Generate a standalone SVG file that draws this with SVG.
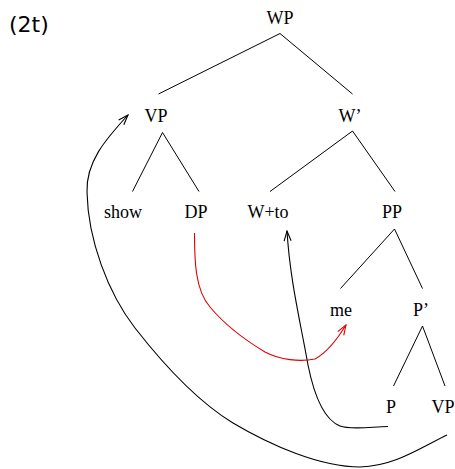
<svg xmlns="http://www.w3.org/2000/svg" width="455" height="469" viewBox="0 0 455 469">
<defs>
<style>
.lbl{font-family:"Liberation Serif","Times New Roman",serif;font-size:18px;fill:#000;text-anchor:middle}
.edge{stroke:#000;stroke-width:1;fill:none}
.mv{stroke:#000;stroke-width:1.1;fill:none}
.red{stroke:#e00000}
</style>
<marker id="ah" markerWidth="12" markerHeight="10" refX="0" refY="0" viewBox="-11 -5 12 10" orient="auto" markerUnits="userSpaceOnUse">
<path d="M-10,-3.5 L0,0 L-10,3.5" fill="none" stroke="#000" stroke-width="1.1"/>
</marker>
<marker id="ahr" markerWidth="12" markerHeight="10" refX="0" refY="0" viewBox="-11 -5 12 10" orient="auto" markerUnits="userSpaceOnUse">
<path d="M-10,-3.5 L0,0 L-10,3.5" fill="none" stroke="#e00000" stroke-width="1.1"/>
</marker>
</defs>
<rect width="455" height="469" fill="#fff"/>
<text x="9" y="32" font-family="DejaVu Sans, sans-serif" font-size="22">(2t)</text>
<g id="WP"><text class="lbl" x="280" y="24">WP</text></g>
<g id="VP"><text class="lbl" x="156" y="122">VP</text></g>
<g id="Wbar"><text class="lbl" x="350" y="122">W’</text></g>
<g id="show"><text class="lbl" x="123" y="218">show</text></g>
<g id="DP"><text class="lbl" x="196" y="218">DP</text></g>
<g id="Wto"><text class="lbl" x="268" y="218">W+to</text></g>
<g id="PP"><text class="lbl" x="392" y="218">PP</text></g>
<g id="me"><text class="lbl" x="341" y="316">me</text></g>
<g id="Pbar"><text class="lbl" x="421" y="316">P’</text></g>
<g id="P"><text class="lbl" x="391" y="413">P</text></g>
<g id="VP2"><text class="lbl" x="443" y="413">VP</text></g>
<g id="connectors">
<path class="edge" d="M280,33.5 L158.5,94 M280,33.5 L352.5,94"/>
<path class="edge" d="M162.5,132.5 L132.5,191.5 M162.5,132.5 L199,191.5"/>
<path class="edge" d="M352.5,131 L270,191.5 M352.5,131 L395,191.5"/>
<path class="edge" d="M394.5,229 L340.5,288.5 M394.5,229 L422.5,288.5"/>
<path class="edge" d="M422.5,326 L393.5,386 M422.5,326 L445,386"/>
<path class="mv" marker-end="url(#ah)" d="M447,435 C420,448 395,466 360,467 C320,467 270,445 233,423 C195,400 160,360 135,328 C108,293 88,240 87,192 C86,162 105,140 128,115"/>
<path class="mv" marker-end="url(#ah)" d="M388,426.5 C370,427 350,430 340,426 C325,420 315,400 308,365 C300,320 290,280 287,231"/>
<path class="mv red" marker-end="url(#ahr)" d="M194.5,233 C194.5,260 195,290 210,307 C225,325 245,340 265,352 C280,360 300,362 315,359 C328,352 338,338 346,325"/>
</g>
</svg>
